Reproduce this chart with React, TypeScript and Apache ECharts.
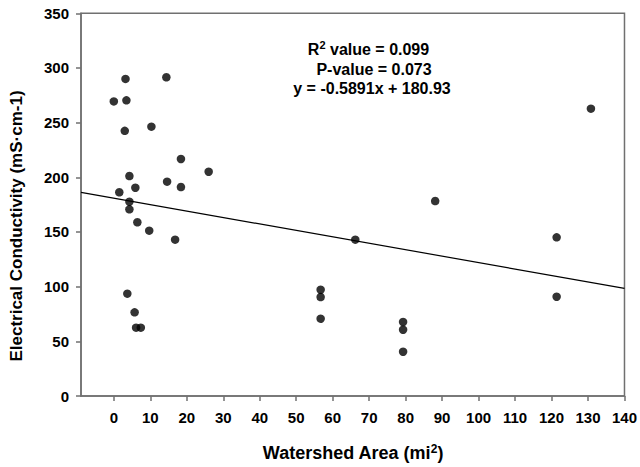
import React, { useEffect, useRef } from "react";
import * as echarts from "echarts";

// Watershed area (mi^2) and electrical conductivity values
const watershedArea = [
  0, 3.2, 14.4, 3.45, 3.0, 10.3, 18.4, 26.0, 4.27, 14.6, 18.4, 5.9, 1.5, 4.27,
  4.27, 6.45, 9.7, 16.8, 3.7, 5.7, 6.1, 7.4, 66.2, 56.7, 56.7, 56.7, 79.3, 79.3,
  79.3, 88.1, 121.4, 121.4, 130.8,
];
const conductivity = [
  269.4, 290, 291.5, 270.4, 242.5, 246.3, 216.8, 205.1, 201.2, 196.0, 191.1,
  190.5, 186.3, 177.7, 170.7, 158.9, 151.2, 143.0, 93.6, 76.5, 62.5, 62.5, 143.0,
  97.2, 90.5, 70.7, 67.7, 60.6, 40.5, 178.3, 145.1, 90.8, 262.8,
];

// Regression shown in the chart
const slope = -0.5891;
const intercept = 180.93;
const fitRange = [-9, 140];

const xTicks = [0, 10, 20, 30, 40, 50, 60, 70, 80, 90, 100, 110, 120, 130, 140];
const annotationLines = ["R² value = 0.099", "P-value = 0.073", "y = -0.5891x + 180.93"];

export default function App() {
  const ref = useRef<HTMLDivElement>(null);

  useEffect(() => {
    if (!ref.current) return;
    const chart = echarts.init(ref.current, null, { renderer: "svg" });
    const points = watershedArea.map((x, i) => [x, conductivity[i]]);
    const fit = fitRange.map((x) => [x, slope * x + intercept]);
    const axisGray = "#707070";
    const font = "'Liberation Sans', Arial, sans-serif";

    chart.setOption({
      animation: false,
      backgroundColor: "#fff",
      grid: {
        left: 81,
        right: 14.3,
        top: 13.3,
        bottom: 71,
        show: true,
        borderColor: axisGray,
        borderWidth: 1.5,
        backgroundColor: "transparent",
      },
      xAxis: {
        type: "value",
        min: -9,
        max: 140,
        axisLine: { show: true, onZero: false, lineStyle: { color: axisGray, width: 1.5 } },
        axisTick: {
          show: true,
          length: 5,
          customValues: xTicks,
          lineStyle: { color: axisGray, width: 1.5 },
        },
        axisLabel: {
          customValues: xTicks,
          color: "#000",
          fontSize: 15,
          fontWeight: "bold",
          fontFamily: font,
          margin: 14,
        },
        splitLine: { show: false },
      },
      yAxis: {
        type: "value",
        min: 0,
        max: 350,
        interval: 50,
        axisLine: { show: true, onZero: false, lineStyle: { color: axisGray, width: 1.5 } },
        axisTick: { show: true, length: 5, lineStyle: { color: axisGray, width: 1.5 } },
        axisLabel: {
          color: "#000",
          fontSize: 15,
          fontWeight: "bold",
          fontFamily: font,
          margin: 12,
        },
        splitLine: { show: false },
      },
      series: [
        {
          type: "line",
          data: fit,
          showSymbol: false,
          symbol: "none",
          lineStyle: { color: "#000", width: 1.2 },
          z: 2,
        },
        {
          type: "scatter",
          data: points,
          symbol: "circle",
          symbolSize: 8.5,
          itemStyle: { color: "#000" },
          z: 3,
        },
      ],
      graphic: [
        {
          type: "text",
          x: 353,
          y: 453,
          style: {
            text: "Watershed Area (mi{sup|2})",
            fill: "#000",
            font: `bold 18px ${font}`,
            align: "center",
            verticalAlign: "middle",
            rich: {
              sup: {
                fontSize: 12,
                fontWeight: "bold",
                fontFamily: font,
                verticalAlign: "top",
                padding: [0, 0, 8, 0],
              },
            },
          },
        },
        {
          type: "text",
          x: 16.5,
          y: 226,
          rotation: Math.PI / 2,
          style: {
            text: "Electrical Conductivity (mS·cm-1)",
            fill: "#000",
            font: `bold 17px ${font}`,
            align: "center",
            verticalAlign: "middle",
          },
        },
        {
          type: "text",
          x: 368.5,
          y: 49,
          style: {
            text: "R{sup|2} value = 0.099",
            fill: "#000",
            font: `bold 16px ${font}`,
            align: "center",
            verticalAlign: "middle",
            rich: {
              sup: {
                fontSize: 11,
                fontWeight: "bold",
                fontFamily: font,
                padding: [0, 0, 8, 0],
              },
            },
          },
        },
        {
          type: "text",
          x: 374,
          y: 69,
          style: {
            text: annotationLines[1],
            fill: "#000",
            font: `bold 16px ${font}`,
            align: "center",
            verticalAlign: "middle",
          },
        },
        {
          type: "text",
          x: 372,
          y: 88,
          style: {
            text: annotationLines[2],
            fill: "#000",
            font: `bold 16px ${font}`,
            align: "center",
            verticalAlign: "middle",
          },
        },
      ],
    });

    return () => chart.dispose();
  }, []);

  return (
    <div
      ref={ref}
      style={{ width: 640, height: 467, position: "absolute", left: 0, top: 0 }}
    />
  );
}
